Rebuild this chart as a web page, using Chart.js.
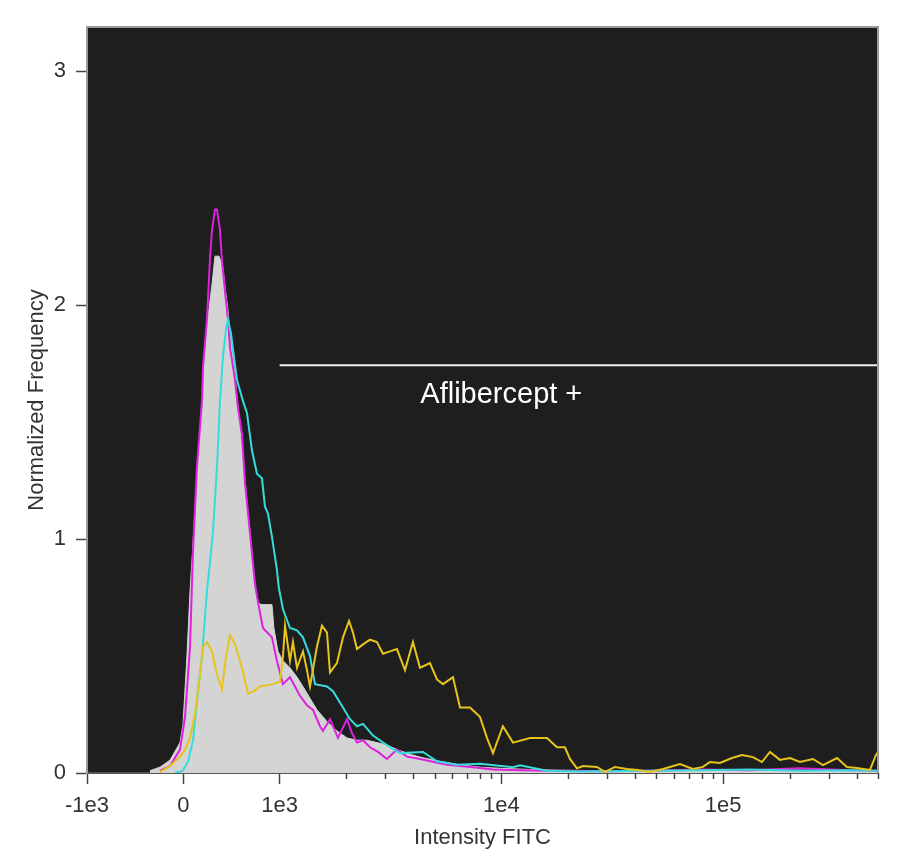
<!DOCTYPE html>
<html lang="en">

<head>
    <meta charset="UTF-8">
    <script src="https://cdn.jsdelivr.net/npm/chart.js@4.4.1/dist/chart.umd.min.js"></script>
    <title>Intensity FITC histogram</title>
    <style>
        html, body { margin: 0; padding: 0; background: #fff; }
        .container { width: 897px; height: 863px; }
    </style>
</head>

<body>
    <div class="container">
        <canvas id="myChart"></canvas>
    </div>

    <script>
        // x = FITC intensity, y = normalized frequency
        const controlX = [-346, -242, -138, -34, -3, 38, 70, 101, 142, 194, 225, 257, 298, 329, 371, 412, 433, 464, 485, 537, 589, 641, 692, 744, 776, 807, 921, 941, 983, 1036, 1114, 1198, 1275, 1371, 1474, 1636, 1815, 2014, 2234, 2478, 2749, 3050, 3384, 3873, 4433, 5289, 6510, 8012, 9862, 13470, 18390, 27860, 46830, 78700, 132300, 222300, 373700, 500000];
        const controlY = [0.01, 0.025, 0.055, 0.13, 0.21, 0.5, 0.78, 0.98, 1.28, 1.59, 1.81, 1.95, 2.09, 2.21, 2.21, 2.16, 2.08, 1.98, 1.88, 1.70, 1.47, 1.25, 1.03, 0.81, 0.73, 0.72, 0.72, 0.62, 0.52, 0.48, 0.45, 0.41, 0.37, 0.32, 0.27, 0.22, 0.18, 0.15, 0.14, 0.14, 0.13, 0.12, 0.10, 0.08, 0.065, 0.05, 0.035, 0.025, 0.02, 0.015, 0.012, 0.01, 0.01, 0.012, 0.01, 0.012, 0.01, 0.01];

        const magentaX = [-242, -138, -34, 18, 70, 101, 142, 194, 205, 246, 277, 298, 329, 350, 381, 402, 433, 464, 485, 537, 568, 609, 641, 692, 744, 776, 827, 921, 972, 1036, 1114, 1235, 1329, 1415, 1521, 1569, 1688, 1834, 2014, 2122, 2234, 2379, 2557, 2778, 3050, 3384, 3755, 4297, 5688, 7451, 9171, 12140, 16580, 27860, 46830, 78700, 132300, 222300, 373700, 500000];
        const magentaY = [0.01, 0.03, 0.10, 0.24, 0.54, 0.95, 1.31, 1.59, 1.74, 1.94, 2.2, 2.32, 2.41, 2.41, 2.32, 2.19, 2.06, 1.94, 1.82, 1.68, 1.56, 1.45, 1.24, 1.03, 0.81, 0.73, 0.62, 0.58, 0.48, 0.38, 0.41, 0.33, 0.29, 0.27, 0.20, 0.18, 0.23, 0.15, 0.23, 0.17, 0.13, 0.14, 0.11, 0.09, 0.06, 0.10, 0.07, 0.06, 0.035, 0.025, 0.015, 0.012, 0.01, 0.008, 0.01, 0.015, 0.012, 0.02, 0.012, 0.01];

        const cyanX = [-86, -3, 49, 101, 153, 194, 246, 277, 308, 350, 381, 412, 444, 464, 495, 526, 558, 620, 661, 713, 765, 817, 848, 879, 921, 972, 993, 1036, 1114, 1198, 1275, 1371, 1444, 1636, 1741, 1932, 2078, 2234, 2379, 2638, 3147, 3492, 4433, 5127, 6311, 8012, 11290, 12140, 16070, 22630, 46830, 78700, 132300, 222300, 373700, 500000];
        const cyanY = [0, 0.01, 0.05, 0.14, 0.35, 0.50, 0.78, 0.90, 1.03, 1.31, 1.59, 1.78, 1.90, 1.94, 1.88, 1.78, 1.68, 1.59, 1.54, 1.38, 1.28, 1.26, 1.14, 1.11, 1.01, 0.87, 0.79, 0.70, 0.62, 0.61, 0.58, 0.50, 0.38, 0.37, 0.35, 0.28, 0.23, 0.20, 0.21, 0.16, 0.11, 0.085, 0.09, 0.05, 0.035, 0.04, 0.025, 0.033, 0.01, 0.006, 0.01, 0.012, 0.015, 0.01, 0.012, 0.01];

        const yellowX = [-242, -138, -34, 18, 70, 121, 173, 205, 246, 298, 350, 402, 444, 485, 537, 609, 672, 734, 796, 931, 1004, 1036, 1058, 1114, 1149, 1198, 1275, 1329, 1371, 1474, 1553, 1636, 1688, 1815, 1932, 2057, 2144, 2234, 2379, 2557, 2749, 2926, 3147, 3384, 3677, 3996, 4297, 4767, 5127, 5457, 6053, 6510, 7222, 8012, 8617, 9171, 10170, 11290, 13470, 16070, 17830, 19370, 20400, 21940, 23350, 27010, 29340, 32560, 36880, 41330, 46830, 53600, 63940, 73170, 81190, 87310, 96860, 109700, 121700, 136500, 149800, 162800, 180600, 200400, 222300, 254400, 282300, 326600, 362300, 401900, 459900, 489600, 500000];
        const yellowY = [0.005, 0.03, 0.07, 0.10, 0.15, 0.25, 0.42, 0.54, 0.56, 0.52, 0.42, 0.36, 0.50, 0.59, 0.55, 0.45, 0.34, 0.35, 0.37, 0.38, 0.39, 0.50, 0.63, 0.48, 0.56, 0.45, 0.52, 0.44, 0.37, 0.54, 0.63, 0.60, 0.43, 0.47, 0.58, 0.65, 0.60, 0.53, 0.55, 0.57, 0.56, 0.51, 0.52, 0.53, 0.44, 0.56, 0.45, 0.47, 0.40, 0.38, 0.41, 0.28, 0.28, 0.24, 0.15, 0.085, 0.20, 0.13, 0.15, 0.15, 0.11, 0.11, 0.06, 0.02, 0.03, 0.026, 0.005, 0.026, 0.017, 0.013, 0.004, 0.017, 0.038, 0.017, 0.026, 0.047, 0.043, 0.064, 0.077, 0.068, 0.047, 0.09, 0.056, 0.064, 0.047, 0.06, 0.034, 0.064, 0.026, 0.021, 0.013, 0.077, 0.09];

        // gate "Aflibercept +"
        const gateX = [1000, 500000];
        const gateY = [1.744, 1.744];
        const gateLabel = 'Aflibercept +';
        const gateLabelX = 10000;
        const gateLabelY = 1.615;

        const xMajorTicks = [-1000, 0, 1000, 10000, 100000];
        const xTickLabels = ['-1e3', '0', '1e3', '1e4', '1e5'];
        const xMinorTicks = [2000, 3000, 4000, 5000, 6000, 7000, 8000, 9000, 20000, 30000, 40000, 50000, 60000, 70000, 80000, 90000, 200000, 300000, 400000, 500000];
        const yTicks = [0, 1, 2, 3];

        const toPoints = (xs, ys) => xs.map((x, i) => ({ x: x, y: ys[i] }));

        // biexponential-like axis: linear below 1e3, log above
        const LIN = 1000;
        const tf = v => v <= LIN ? v / LIN : 1 + Math.log(v / LIN);
        const itf = t => t <= 1 ? t * LIN : LIN * Math.exp(t - 1);

        class BiexScale extends Chart.LinearScale {
            buildTicks() {
                return xMajorTicks.map(v => ({ value: v }));
            }
            getPixelForValue(v) {
                const a = tf(this.min), b = tf(this.max);
                return this.getPixelForDecimal((tf(v) - a) / (b - a));
            }
            getValueForPixel(p) {
                const a = tf(this.min), b = tf(this.max);
                return itf(a + this.getDecimalForPixel(p) * (b - a));
            }
        }
        BiexScale.id = 'biex';
        BiexScale.defaults = Chart.LinearScale.defaults;
        Chart.register(BiexScale);

        const FONT = "'Liberation Sans', Arial, sans-serif";

        const plotFrame = {
            id: 'plotFrame',
            beforeDraw(chart) {
                const { ctx, chartArea: a } = chart;
                ctx.save();
                ctx.fillStyle = '#1e1e1e';
                ctx.fillRect(a.left, a.top, a.right - a.left, a.bottom - a.top);
                ctx.restore();
            },
            afterDraw(chart) {
                const { ctx, chartArea: a, scales } = chart;
                ctx.save();
                // frame
                ctx.strokeStyle = '#9a9a9a';
                ctx.lineWidth = 2;
                ctx.beginPath();
                ctx.moveTo(a.left, a.top);
                ctx.lineTo(a.right, a.top);
                ctx.lineTo(a.right, a.bottom);
                ctx.stroke();
                // minor ticks on x axis
                ctx.strokeStyle = '#444';
                ctx.lineWidth = 1.5;
                xMinorTicks.forEach(v => {
                    const px = Math.round(scales.x.getPixelForValue(v)) + 0.5;
                    ctx.beginPath();
                    ctx.moveTo(px, a.bottom);
                    ctx.lineTo(px, a.bottom + 6);
                    ctx.stroke();
                });
                // gate label
                ctx.fillStyle = '#ffffff';
                ctx.font = '29px ' + FONT;
                ctx.textAlign = 'center';
                ctx.textBaseline = 'middle';
                ctx.fillText(gateLabel, scales.x.getPixelForValue(gateLabelX), scales.y.getPixelForValue(gateLabelY));
                ctx.restore();
            }
        };

        const lineSet = (label, pts, color, order, extra) => Object.assign({
            label: label,
            data: pts,
            order: order,
            borderColor: color,
            borderWidth: 2,
            pointRadius: 0,
            tension: 0,
            fill: false
        }, extra || {});

        new Chart(document.getElementById('myChart').getContext('2d'), {
            type: 'line',
            data: {
                datasets: [
                    lineSet('Control', toPoints(controlX, controlY), '#d4d4d4', 5, { fill: 'origin', backgroundColor: '#d4d4d4', borderWidth: 1 }),
                    lineSet('Sample 1', toPoints(magentaX, magentaY), '#dc22dc', 4),
                    lineSet('Sample 2', toPoints(cyanX, cyanY), '#36dcdc', 3),
                    lineSet('Sample 3', toPoints(yellowX, yellowY), '#e6c41c', 2),
                    lineSet('Gate', toPoints(gateX, gateY), '#f2f2f2', 1)
                ]
            },
            options: {
                responsive: true,
                maintainAspectRatio: false,
                animation: false,
                layout: { padding: { left: 0, top: 27, right: 19, bottom: 0 } },
                plugins: {
                    legend: { display: false },
                    tooltip: { enabled: false }
                },
                scales: {
                    x: {
                        type: 'biex',
                        min: -1000,
                        max: 500000,
                        afterFit: s => { s.height = 90; },
                        grid: { drawOnChartArea: false, drawTicks: true, tickLength: 11, tickColor: '#444', tickWidth: 1.5 },
                        border: { display: true, color: '#555', width: 2 },
                        ticks: {
                            callback: v => xTickLabels[xMajorTicks.indexOf(v)],
                            color: '#333',
                            font: { family: FONT, size: 22 },
                            padding: 9,
                            autoSkip: false,
                            maxRotation: 0
                        },
                        title: { display: true, text: 'Intensity FITC', color: '#333', font: { family: FONT, size: 22 }, padding: { top: 0, bottom: 12 } }
                    },
                    y: {
                        type: 'linear',
                        min: 0,
                        max: 3.19,
                        afterFit: s => { s.width = 87; },
                        afterBuildTicks: s => { s.ticks = yTicks.map(v => ({ value: v })); },
                        grid: { drawOnChartArea: false, drawTicks: true, tickLength: 11, tickColor: '#444', tickWidth: 1.5 },
                        border: { display: true, color: '#9a9a9a', width: 2 },
                        ticks: {
                            color: '#333',
                            font: { family: FONT, size: 22 },
                            padding: 10
                        },
                        title: { display: true, text: 'Normalized Frequency', color: '#333', font: { family: FONT, size: 22 }, padding: { top: 24, bottom: 0 } }
                    }
                }
            },
            plugins: [plotFrame]
        });
    </script>
</body>

</html>
